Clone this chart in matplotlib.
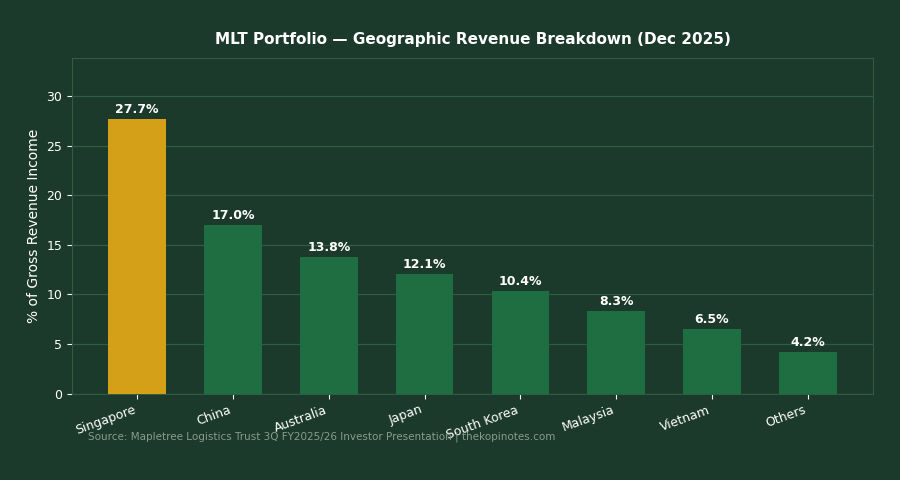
import matplotlib.pyplot as plt

regions = ['Singapore', 'China', 'Australia', 'Japan', 'South Korea', 'Malaysia', 'Vietnam', 'Others']
share = [27.7, 17.0, 13.8, 12.1, 10.4, 8.3, 6.5, 4.2]

BG = '#1b3a2b'
EDGE = '#2f5e3e'

fig, ax = plt.subplots(figsize=(9, 4.8), dpi=100)
fig.patch.set_facecolor(BG)
ax.set_facecolor(BG)

colors = ['#d4a017'] + ['#1e6e42'] * (len(regions) - 1)
bars = ax.bar(regions, share, width=0.6, color=colors, zorder=3)
for b, v in zip(bars, share):
    ax.text(b.get_x() + b.get_width() / 2, v + 0.3, f'{v:.1f}%', ha='center', va='bottom',
            color='white', fontsize=9, fontweight='bold', zorder=4)

ax.set_ylim(0, 33.9)
ax.yaxis.grid(True, color=EDGE, linewidth=0.9, zorder=0)
for s in ax.spines.values():
    s.set_color(EDGE)
ax.tick_params(colors='white', labelsize=9)
plt.setp(ax.get_xticklabels(), rotation=20, ha='right', rotation_mode='default')
ax.set_ylabel('% of Gross Revenue Income', color='white', fontsize=10)
ax.set_title('MLT Portfolio — Geographic Revenue Breakdown (Dec 2025)', color='white',
             fontsize=11, fontweight='bold', pad=10)

fig.subplots_adjust(left=0.08, right=0.97, top=0.88, bottom=0.18)
fig.text(0.098, 0.085, 'Source: Mapletree Logistics Trust 3Q FY2025/26 Investor Presentation | thekopinotes.com',
         color='#8a9a8f', fontsize=7.5)

fig.savefig('out.png', facecolor=BG)
